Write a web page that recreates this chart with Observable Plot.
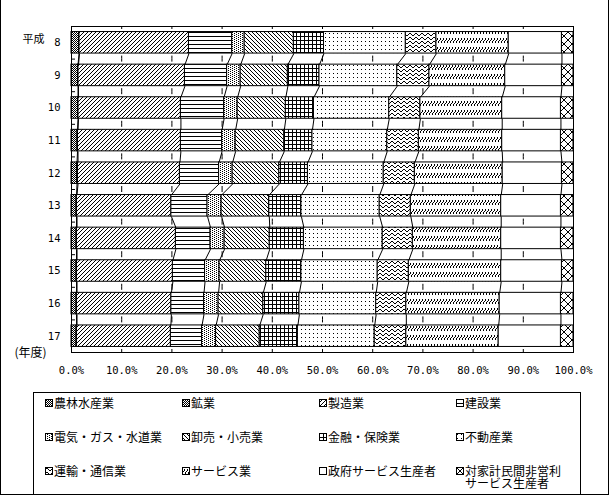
<!DOCTYPE html>
<html><head><meta charset="utf-8">
<script src="https://cdn.jsdelivr.net/npm/d3@7"></script>
<script src="https://cdn.jsdelivr.net/npm/@observablehq/plot@0.6"></script>
<style>
body{margin:0;background:#fff;}
#wrap{position:relative;width:611px;height:495px;background:#fff;overflow:hidden;}
#wrap > svg{position:absolute;left:0;top:0;}
#outer{position:absolute;left:0;top:0;width:609px;height:495px;box-sizing:border-box;border:1px solid #000;border-top:none;pointer-events:none;}
#legend{position:absolute;left:33px;top:392px;width:548px;height:103px;box-sizing:border-box;border:1px solid #000;font-family:"Noto Sans CJK JP";font-size:12px;color:#000;}
.item{position:absolute;display:flex;align-items:flex-start;line-height:12px;white-space:nowrap;}
.item svg{flex:none;margin-top:2px;margin-right:1px;}
.item .t{white-space:pre;}
</style></head><body>
<div id="wrap"><div id="legend"></div><div id="outer"></div></div>
<script>
// ---- data (percent shares, 平成8〜17年度) ----
const years = ["8","9","10","11","12","13","14","15","16","17"];
const categories = ["農林水産業","鉱業","製造業","建設業","電気・ガス・水道業","卸売・小売業","金融・保険業","不動産業","運輸・通信業","サービス業","政府サービス生産者","対家計民間非営利\nサービス生産者"];
const agri       = [1.5,1.3,1.3,1.2,1.1,1.0,1.0,1.0,1.0,1.0];
const mining     = [0.1,0.1,0.1,0.1,0.2,0.1,0.1,0.1,0.1,0.1];
const manuf      = [21.8,21.2,20.4,20.5,20.3,18.8,19.7,19.1,18.8,18.7];
const constr     = [8.6,8.4,8.6,8.2,7.8,7.2,6.9,6.4,6.5,6.2];
const utility    = [2.5,2.7,2.7,2.7,2.7,2.8,2.8,2.9,2.9,2.8];
const trade      = [9.8,9.4,9.6,9.7,9.3,9.5,9.0,9.3,8.9,8.7];
const finance    = [6.0,6.3,5.6,5.6,5.7,6.4,6.8,7.0,7.2,7.6];
const realEstate = [16.3,15.5,15.0,14.9,15.1,15.6,15.7,15.2,15.3,15.3];
const transport  = [6.1,6.4,6.2,6.3,6.2,6.2,6.0,6.2,6.0,6.3];
const services   = [14.4,15.1,16.3,16.6,17.5,18.0,17.6,18.4,18.6,18.4];
const government = [10.6,11.3,11.7,11.7,11.8,11.9,11.9,12.1,12.2,12.4];
const nonprofit  = [2.3,2.3,2.5,2.5,2.3,2.5,2.5,2.3,2.5,2.5];
const xTicks = [0,10,20,30,40,50,60,70,80,90,100];
const eraLabel = "平成";
const unitLabel = "(年度)";

const series = [agri,mining,manuf,constr,utility,trade,finance,realEstate,transport,services,government,nonprofit];

// cumulative boundaries per year
const cum = years.map((_, i) => [0, ...d3.cumsum(series.map(s => s[i]))]);
const idx = years.map((_, i) => i);
const half = 0.33;

const rectMarks = series.map((s, k) => Plot.rect(idx, {
  x1: i => cum[i][k], x2: i => cum[i][k + 1],
  y1: i => i - half, y2: i => i + half,
  fill: `url(#pat${k})`, stroke: "black", strokeWidth: 1
}));

const links = [];
for (let i = 0; i < years.length - 1; i++) {
  for (let k = 1; k < series.length; k++) {
    links.push({x1: cum[i][k], y1: i + half, x2: cum[i + 1][k], y2: i + 1 - half});
  }
}
const boundaries = idx.slice(0, -1).map(i => i + 0.5);

const svg = Plot.plot({
  width: 611, height: 390,
  marginLeft: 71, marginRight: 38, marginTop: 26, marginBottom: 38,
  style: {fontFamily: "DejaVu Sans Mono", fontSize: "10.5px", background: "transparent", color: "black"},
  x: {domain: [0, 100], ticks: xTicks, tickFormat: d => d.toFixed(1) + "%", tickSize: 0, tickPadding: 14, label: null},
  y: {domain: [-0.5, years.length - 0.5], reverse: true, ticks: idx, tickFormat: i => years[i], tickSize: 0, tickPadding: 11, label: null},
  marks: [
    Plot.ruleX(xTicks, {stroke: "black", strokeWidth: 1, strokeDasharray: "3,26.6,3,0"}),
    ...rectMarks,
    Plot.link(links, {x1: "x1", y1: "y1", x2: "x2", y2: "y2", stroke: "black", strokeWidth: 1}),
    Plot.ruleY(boundaries, {x1: 0, x2: 0.8, stroke: "black"}),
    Plot.frame({stroke: "black"}),
    Plot.text([eraLabel], {x: 0, y: 0, dx: -38, dy: -3.5, text: d => d, textAnchor: "middle", fontFamily: "Noto Sans CJK JP", fontSize: 11}),
    Plot.text([unitLabel], {frameAnchor: "bottom-left", dx: -41, dy: 4, text: d => d, textAnchor: "middle", fontFamily: "Noto Sans CJK JP", fontSize: 12})
  ]
});

// ---- hatch patterns ----
const defs = d3.select(svg).insert("defs", ":first-child");
function pat(id, w, h, pixels) {
  const p = defs.append("pattern").attr("id", id).attr("patternUnits", "userSpaceOnUse")
    .attr("width", w).attr("height", h);
  p.append("rect").attr("width", w).attr("height", h).attr("fill", "#fff");
  for (const [x, y, pw = 1, ph = 1] of pixels) p.append("rect").attr("x", x).attr("y", y).attr("width", pw).attr("height", ph).attr("fill", "#000").attr("shape-rendering", "crispEdges");
}
pat("pat0", 2, 2, [[0,0],[1,1]]);
pat("pat1", 2, 2, [[0,0],[1,1]]);
pat("pat2", 4, 4, [[3,0],[2,1],[1,2],[0,3]]);
pat("pat3", 4, 4, [[0,0,4,1]]);
pat("pat4", 4, 2, [[0,0],[2,1]]);
pat("pat5", 4, 4, [[0,0],[1,1],[2,2],[3,3]]);
pat("pat6", 4, 4, [[0,0,4,1],[0,0,1,4]]);
pat("pat7", 4, 4, [[1,1]]);
pat("pat8", 6, 4, [[0,2],[1,1],[2,1],[3,2],[4,3],[5,3]]);
pat("pat9", 3, 9, [[2,2],[2,3],[1,4],[0,5],[0,6]]);
pat("pat10", 4, 4, []);
pat("pat11", 8, 8, d3.range(8).flatMap(i => [[i,i],[7-i,i]]));

const wrap = document.getElementById("wrap");
wrap.prepend(svg);

// ---- legend ----
const legend = d3.select("#legend");
categories.forEach((c, k) => {
  const col = k % 4, row = Math.floor(k / 4);
  const item = legend.append("div").attr("class", "item")
    .style("left", (11 + 137 * col) + "px").style("top", (4 + 34 * row) + "px");
  const sw = item.append("svg").attr("width", 8).attr("height", 8);
  sw.append("rect").attr("x", 0.5).attr("y", 0.5).attr("width", 7).attr("height", 7)
    .attr("fill", `url(#pat${k})`).attr("stroke", "black");
  item.append("div").attr("class", "t").text(c);
});
</script>
</body></html>
